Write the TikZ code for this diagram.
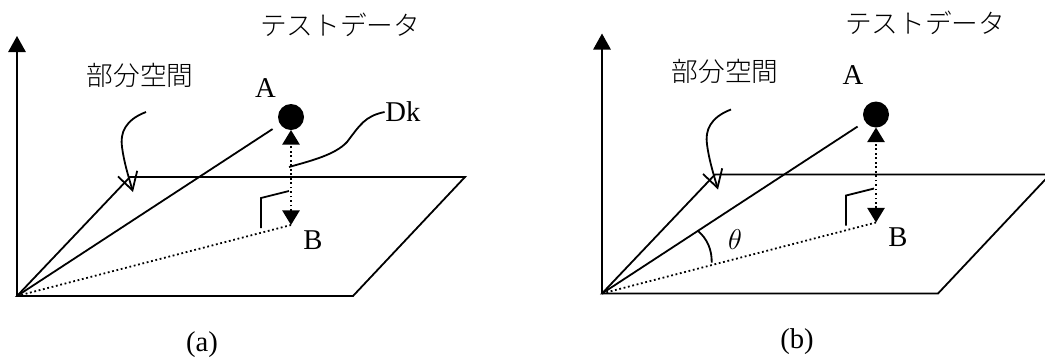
\documentclass[tikz,border=0pt]{standalone}
\usepackage{fix-cm}
\usepackage{fontspec}
\setmainfont{Liberation Serif}
\newfontfamily\cjk{Noto Sans CJK JP Light}
\usetikzlibrary{arrows.meta,calc,positioning}
\tikzset{lab/.style={font=\fontsize{21.5}{25}\selectfont,inner sep=0pt},
  jlab/.style={font=\fontsize{20}{24}\selectfont\cjk,inner sep=0pt},
  datapt/.style={circle,fill=black,minimum size=19.5pt,inner sep=0pt,outer sep=0pt},
  axisarr/.style={-{Triangle[length=12pt,width=13pt]}},
  perp/.style={{Triangle[length=11pt,width=13pt]}-{Triangle[length=11pt,width=13pt]},dotted},
  lead/.style={-{Straight Barb[length=13pt,width=15pt]}}}

\begin{document}
\begin{tikzpicture}[x=0.75pt,y=-0.75pt,line width=1.35pt,line join=miter]
\clip (0,0) rectangle (1045,358);
\fill[white] (0,0) rectangle (1045,358);
% panel a
\begin{scope}
\coordinate (oa) at (17,296);
\coordinate (ya) at (17,36);
\coordinate (pa1) at (353,296);
\coordinate (pa2) at (465,177);
\coordinate (pa3) at (130,177);
\coordinate (ba) at (291,225);
\coordinate (sa) at (146,112);
\coordinate (ta) at (133,192);
\coordinate (ka) at (289,167);
\node[datapt] (dota) at (291,117) {};
\node[jlab] (testa) at (340,25) {テストデータ};
\node[jlab] (suba) at (140,75) {部分空間};
\node[lab] (namea) at (265.5,88.5) {A};
\node[lab] (nameb) at (313,240) {B};
\node[lab] (dka) at (403,112) {Dk};
\node[lab] (capa) at (202,345) {(a)};
\draw[axisarr] (oa) -- (ya);
\draw (oa) -- (pa1) -- (pa2) -- (pa3) -- cycle;
\draw[shorten >=6.75pt] (oa) -- (dota);
\draw[dotted] (oa) -- (ba);
\draw[perp] (ba) -- (dota.south);
\draw[lead] (sa) .. controls (125,120) and (120,133) .. (122,147) .. controls (124,162) and (128,175) .. (ta);
\draw (ka) .. controls (310,161) and (335,155) .. (347,142) .. controls (360,125) and (365,116) .. (dka.west);
\draw (261,228) -- (261,198) -- (289,191);
\end{scope}
% panel b
\begin{scope}[shift={(585,-2.5)}]
\coordinate (ob) at (17,296);
\coordinate (yb) at (17,36);
\coordinate (qb1) at (353,296);
\coordinate (qb2) at (465,177);
\coordinate (qb3) at (130,177);
\coordinate (bb) at (291,225);
\coordinate (sb) at (146,112);
\coordinate (tb) at (133,192);
\coordinate (tha) at (113,233.5);
\coordinate (thb) at (126.7,265.2);
\node[datapt] (dotb) at (291,117) {};
\node[jlab] (testb) at (340,25.5) {テストデータ};
\node[jlab] (subb) at (140,73.5) {部分空間};
\node[lab] (namec) at (268,77.5) {A};
\node[lab] (named) at (313,239.5) {B};
\node[lab] (theta) at (150,242.5) {$\theta$};
\node[lab] (capb) at (212,344.5) {(b)};
\draw[axisarr] (ob) -- (yb);
\draw (ob) -- (qb1) -- (qb2) -- (qb3) -- cycle;
\draw[shorten >=6.75pt] (ob) -- (dotb);
\draw[dotted] (ob) -- (bb);
\draw[perp] (bb) -- (dotb.south);
\draw[lead] (sb) .. controls (125,120) and (120,133) .. (122,147) .. controls (124,162) and (128,175) .. (tb);
\draw (tha) .. controls (122,241) and (127,252) .. (thb);
\draw (261,228) -- (261,198) -- (289,191);
\end{scope}
\end{tikzpicture}
\end{document}
